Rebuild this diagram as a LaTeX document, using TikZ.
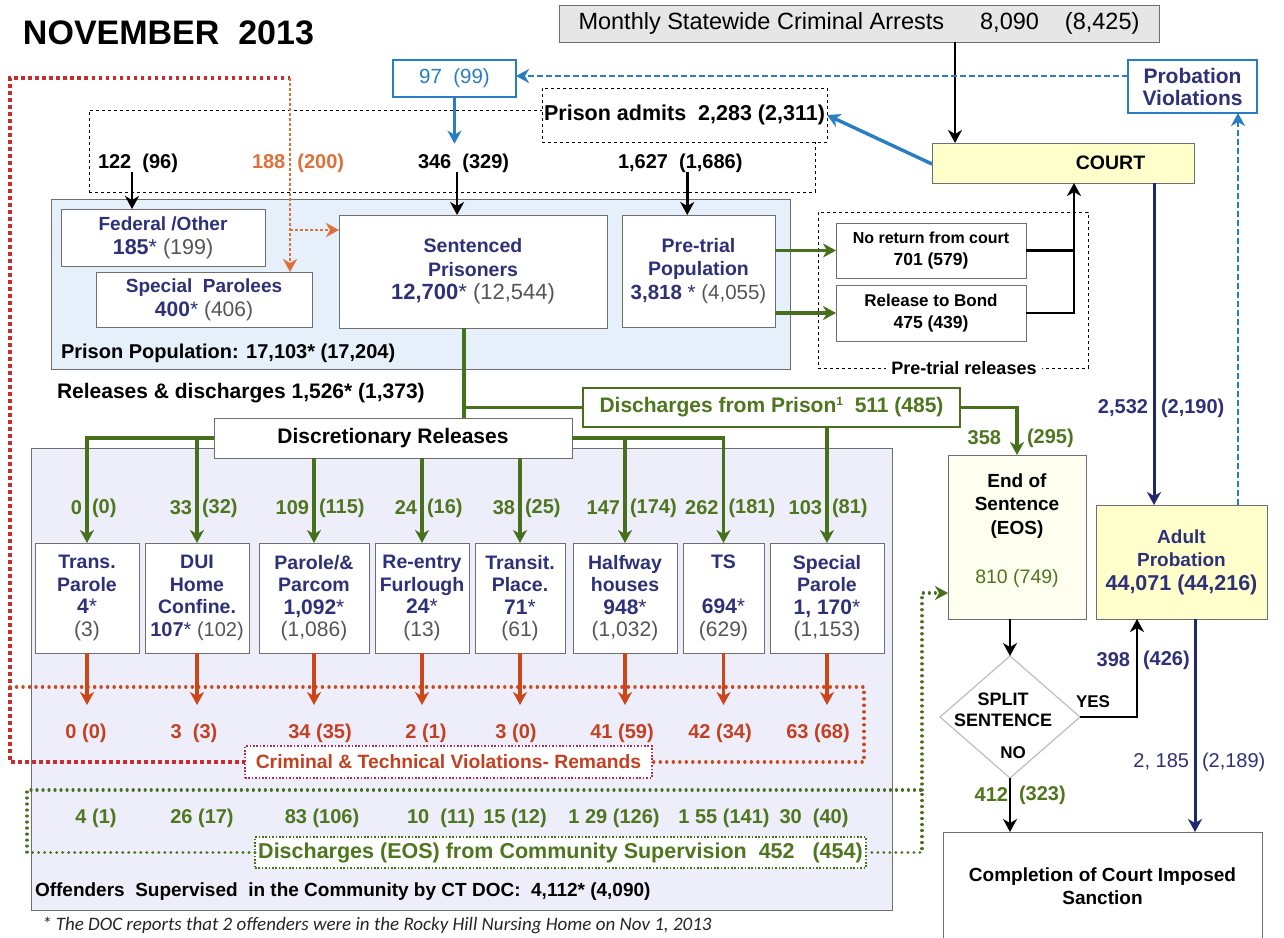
\documentclass[tikz,border=0pt]{standalone}
\usepackage{fontspec}
\setmainfont{Liberation Sans}
\newfontfamily\fnfont{Carlito}
\usetikzlibrary{arrows.meta,shapes.geometric}
\definecolor{navyt}{RGB}{46,49,120}
\definecolor{grayt}{RGB}{85,85,85}
\definecolor{grnt}{RGB}{78,118,30}
\definecolor{grnl}{RGB}{70,112,28}
\definecolor{redarr}{RGB}{205,70,25}
\definecolor{redt}{RGB}{195,65,35}
\definecolor{orng}{RGB}{222,112,60}
\definecolor{dred}{RGB}{200,45,45}
\definecolor{pinkd}{RGB}{175,45,80}
\definecolor{bluec}{RGB}{40,125,195}
\definecolor{navyl}{RGB}{30,40,110}
\definecolor{pfill}{RGB}{229,240,250}
\definecolor{cfill}{RGB}{238,238,250}
\definecolor{yel}{RGB}{255,255,204}
\definecolor{eosfill}{RGB}{255,255,240}
\definecolor{grayfill}{RGB}{230,230,230}
\definecolor{bordc}{RGB}{110,110,110}
\definecolor{diag}{RGB}{190,190,190}
\newcommand\fz[2]{\fontsize{#1}{#2}\selectfont}
\begin{document}
\begin{tikzpicture}[x=1pt,y=-1pt,
  every node/.style={inner sep=0pt, outer sep=0pt},
  box/.style={draw=bordc, line width=0.9pt, fill=white, align=center},
  rbox/.style={box, minimum height=110, text=navyt, font=\fz{19.5}{22.5}},
  ar/.style={-{Stealth[length=13pt,width=14pt,inset=4pt]}},
  blk/.style={draw=black, line width=2.8pt, ar},
  bline/.style={draw=black, line width=2.8pt},
  gline/.style={draw=grnl, line width=3.6pt},
  garr/.style={gline, ar},
  rarr/.style={draw=redarr, line width=3.2pt, ar},
  barr/.style={draw=bluec, line width=3.4pt, ar},
  bdash/.style={draw=bluec, line width=2pt, dash pattern=on 6pt off 3pt},
  narr/.style={draw=navyl, line width=3pt, ar},
  rdot/.style={draw=dred, line width=3.6pt, dash pattern=on 3.6pt off 3.4pt},
  rdotr/.style={draw=redarr, line width=3.4pt, line cap=round, dash pattern=on 0.01pt off 6.5pt},
  rdot2/.style={draw=orng, line width=2.6pt, dash pattern=on 2.6pt off 2.4pt, -{Stealth[length=13pt,width=14pt,inset=4pt,fill=redarr]}},
  gdot/.style={draw=grnl, line width=3.2pt, line cap=round, dash pattern=on 0.01pt off 6pt},
  lbl/.style={font=\bfseries\fz{20}{24}},
  gnum/.style={font=\bfseries\fz{20}{24}, text=grnt},
  rnum/.style={font=\bfseries\fz{20}{24}, text=redt},
  nlbl/.style={font=\bfseries\fz{20}{24}, text=navyt},
]
\useasboundingbox (0,0) rectangle (1284,937);
\clip (0,0) rectangle (1284,937);
\fill[white] (0,0) rectangle (1284,937);

% ---------- panels ----------
\node[draw=bordc, line width=0.9pt, fill=pfill, minimum width=739, minimum height=170] (ppanel) at (420.5,284) {};
\node[draw=bordc, line width=0.9pt, fill=cfill, minimum width=861, minimum height=462] (cpanel) at (461.5,679) {};

% ---------- title ----------
\node[anchor=west, font=\bfseries\fz{34}{40}] (title) at (23,33) {NOVEMBER\ \ 2013};

% ---------- top ----------
\node[box, fill=grayfill, minimum width=600, minimum height=37, font=\fz{23.5}{26}] (arrests) at (859,23.5)
  {Monthly Statewide Criminal Arrests\hspace{36pt}8,090\hspace{26pt}(8,425)};
\node[box, draw=bluec, line width=1.3pt, minimum width=123, minimum height=37, text=bluec, font=\fz{20.5}{24}] (b97) at (454.5,78.5) {97\ \ (99)};
\node[box, draw=bluec, line width=1.3pt, minimum width=129, minimum height=53, text=navyt, font=\bfseries\fz{21}{22}] (pv) at (1192.5,86.5) {Probation\\Violations};

\node[draw=black, dashed, line width=1pt, minimum width=726, minimum height=82] (admitbox) at (452,151) {};
\node[box, draw=black, dashed, line width=1pt, minimum width=285, minimum height=54, font=\bfseries\fz{21.5}{24}] (admits) at (684.5,115) {Prison admits\ \ 2,283 (2,311)};

\node[lbl, anchor=west] (l122) at (98,163) {122\ \ (96)};
\node[lbl, anchor=west, text=orng] (l188) at (252,163) {188\hspace{12pt}(200)};
\node[lbl, anchor=west] (l346) at (418,163) {346\ \ (329)};
\node[lbl, anchor=west] (l1627) at (618,163) {1,627\ \ (1,686)};

\node[box, fill=yel, minimum width=262, minimum height=40] (court) at (1063,163) {};
\node[font=\bfseries\fz{19.5}{22}] (courtt) at (1110.5,163) {COURT};

% ---------- red dotted loop (behind boxes) ----------
\coordinate (rtl) at (10,78);
\coordinate (rtr) at (290,78);
\coordinate (rl1) at (10,687);
\coordinate (rr1) at (864,687);
\coordinate (rl2) at (10,762);
\coordinate (rr2) at (864,762);
\draw[rdot] (448.5,762) -- (rl2) -- (rtl) -- (rtr);
\draw[rdotr] (rl1) -- (rr1) -- (rr2) -- (448.5,762);

% ---------- prison population ----------
\node[box, minimum width=204, minimum height=57, text=navyt, font=\bfseries\fz{19}{24}] (fed) at (163,237.5)
  {Federal /Other\\{\fz{21.5}{24}\bfseries 185\mdseries* {\color{grayt}(199)}}};
\node[box, minimum width=216, minimum height=55, text=navyt, font=\bfseries\fz{19}{24}] (spp) at (204,299.5)
  {Special\ \ Parolees\\{\fz{21}{24}\bfseries 400\mdseries* {\color{grayt}(406)}}};
\node[box, minimum width=268, minimum height=113, text=navyt, font=\bfseries\fz{19.5}{23.5}] (sent) at (473,271.5)
  {Sentenced\\Prisoners\\{\fz{22}{23.5}\bfseries 12,700\mdseries* {\color{grayt}(12,544)}}};
\node[box, minimum width=153, minimum height=112, text=navyt, font=\bfseries\fz{19.5}{23.5}] (pret) at (698.5,271)
  {Pre-trial\\Population\\{\fz{20.5}{23.5}\bfseries 3,818 \mdseries* {\color{grayt}(4,055)}}};
\node[anchor=west, font=\bfseries\fz{20}{24}] (poplbl) at (61,353) {Prison Population: 17,103* (17,204)};

\draw[rdot2] (rtr) -- (rtr |- spp.north);
\draw[rdot2] (rtr |- 0,230) -- (sent.west |- 0,230);

% ---------- admits arrows ----------
\draw[blk] ([xshift=-6]l122.south) -- ([xshift=-6]l122.south |- fed.north);
\draw[blk] ([xshift=-6.5]l346.south) -- ([xshift=-6.5]l346.south |- sent.north);
\draw[blk] ([xshift=7]l1627.south) -- ([xshift=7]l1627.south |- pret.north);
\draw[barr] (b97.south) -- ([yshift=10]b97.south |- l346.north);
\draw[blk] ([xshift=96]arrests.south) -- ([xshift=96]arrests.south |- court.north);
\draw[barr] ([yshift=-1]court.west) -- (admits.east);
\draw[bdash, -{Stealth[length=13pt,width=14pt,inset=4pt]}] (pv.west |- 0,76) -- (b97.east |- 0,76);

% ---------- pre-trial releases ----------
\node[draw=black, dashed, line width=1pt, minimum width=270, minimum height=156] (ptrel) at (953,290) {};
\node[fill=white, inner xsep=5pt, inner ysep=2pt, font=\bfseries\fz{18}{20}] (ptlbl) at (964,368) {Pre-trial releases};
\node[box, minimum width=190, minimum height=55, font=\bfseries\fz{16}{22}] (noret) at (931,250.5) {No return from court\\{\fz{17.5}{22}701 (579)}};
\node[box, minimum width=190, minimum height=56, font=\bfseries\fz{17}{22}] (bond) at (931,313) {Release to Bond\\{\fz{17.5}{22}475 (439)}};
\draw[garr] (pret.east |- noret.west) -- (noret.west);
\draw[garr] (pret.east |- bond.west) -- (bond.west);
\coordinate (cs) at ([xshift=11]court.south);
\draw[bline] (noret.east) -- (noret.east -| cs);
\draw[blk] (bond.east) -| (cs);

% ---------- releases ----------
\node[anchor=west, font=\bfseries\fz{21}{24}] (rdl) at (57,393) {Releases \& discharges 1,526* (1,373)};
\node[box, draw=grnl, line width=1.1pt, minimum width=377, minimum height=39, text=grnt, font=\bfseries\fz{21}{24}] (dfp) at (771.5,407.5)
  {Discharges from Prison\raisebox{7pt}{\fz{12}{12}1}\ \ 511 (485)};
\node[box, minimum width=358, minimum height=40, font=\bfseries\fz{21}{24}] (disc) at (393,438) {Discretionary Releases};

% release boxes
\node[rbox, minimum width=104] (tp) at (87,598) {\textbf{Trans.}\\\textbf{Parole}\\{\fz{21}{22.5}\textbf{4}*}\\{\fz{21}{22.5}\color{grayt}(3)}};
\node[rbox, minimum width=104] (dui) at (197,598) {\textbf{DUI}\\\textbf{Home}\\\textbf{Confine.}\\{\fz{20}{22.5}\textbf{107}* {\color{grayt}(102)}}};
\node[rbox, minimum width=110] (par) at (314,598) {\textbf{Parole/\&}\\\textbf{Parcom}\\{\fz{21}{22.5}\textbf{1,092}*}\\{\fz{21}{22.5}\color{grayt}(1,086)}};
\node[rbox, minimum width=94] (re) at (422,598) {\textbf{Re-entry}\\\textbf{Furlough}\\{\fz{21}{22.5}\textbf{24}*}\\{\fz{21}{22.5}\color{grayt}(13)}};
\node[rbox, minimum width=90] (tr) at (520,598) {\textbf{Transit.}\\\textbf{Place.}\\{\fz{21}{22.5}\textbf{71}*}\\{\fz{21}{22.5}\color{grayt}(61)}};
\node[rbox, minimum width=104] (hw) at (625,598) {\textbf{Halfway}\\\textbf{houses}\\{\fz{21}{22.5}\textbf{948}*}\\{\fz{21}{22.5}\color{grayt}(1,032)}};
\node[rbox, minimum width=81] (ts) at (723.5,598) {\textbf{TS}\\\mbox{}\\{\fz{21}{22.5}\textbf{694}*}\\{\fz{21}{22.5}\color{grayt}(629)}};
\node[rbox, minimum width=114] (spar) at (827,598) {\textbf{Special}\\\textbf{Parole}\\{\fz{21}{22.5}\textbf{1, 170}*}\\{\fz{21}{22.5}\color{grayt}(1,153)}};

% EOS, probation
\node[box, fill=eosfill, draw=bordc, minimum width=138, minimum height=164] (eos) at (1017,537) {};
\node[font=\bfseries\fz{19}{23.5}, align=center] (eost) at (1017,506) {End of\\Sentence\\(EOS)};
\node[font=\fz{19.5}{22}, text=grnt] (eosn) at (1017,578) {810 (749)};
\node[box, fill=yel, minimum width=171, minimum height=114, text=navyt, font=\bfseries\fz{19}{23.5}] (ap) at (1181.5,562)
  {Adult\\Probation\\{\fz{21.5}{23.5}44,071 (44,216)}};

% green connectors
\coordinate (sj) at ([xshift=-9]sent.south);
\draw[gline] (sj) -- (sj |- disc.north);
\draw[gline] (sj |- dfp.west) -- (dfp.west);
\draw[garr] (dfp.east) -| (eos.north);
\draw[garr] (dfp.south -| spar.north) -- (spar.north);
\draw[garr] (disc.west) -| (tp.north);
\draw[garr] (disc.west -| dui.north) -- (dui.north);
\draw[garr] (disc.south -| par.north) -- (par.north);
\draw[garr] (disc.south -| re.north) -- (re.north);
\draw[garr] (disc.south -| tr.north) -- (tr.north);
\draw[garr] (disc.east) -| (ts.north);
\draw[garr] (disc.east -| hw.north) -- (hw.north);

\foreach \nm/\bx/\a/\b in {g1/tp/0/{(0)}, g2/dui/33/{(32)}, g3/par/109/{(115)}, g4/re/24/{(16)}, g5/tr/38/{(25)}, g6/hw/147/{(174)}, g7/ts/262/{(181)}, g8/spar/103/{(81)}}{
  \node[gnum, anchor=east] (\nm a) at ([xshift=-5]\bx.north |- 0,508) {\a};
  \node[gnum, anchor=west] (\nm b) at ([xshift=5]\bx.north |- 0,508) {\b};
}
\node[gnum, anchor=east] (g358) at (1001,438) {358};
\node[gnum, anchor=west] (g295) at (1027,438) {(295)};

% red arrows and numbers
\foreach \bx in {tp,dui,par,re,tr,hw,ts,spar}{
  \draw[rarr] (\bx.south) -- ++(0,52);
}
\foreach \nm/\xx/\t in {r1/86/{0 (0)}, r2/194/{3\ \ (3)}, r3/320/{34 (35)}, r4/426/{2 (1)}, r5/516/{3 (0)}, r6/622/{41 (59)}, r7/720/{42 (34)}, r8/818/{63 (68)}}{
  \node[rnum] (\nm) at (\xx,733) {\t};
}
\node[box, draw=pinkd, line width=1.6pt, dash pattern=on 1.6pt off 1.8pt, minimum width=407, minimum height=32, text=redt, font=\bfseries\fz{19.3}{22}] (cr) at (448.5,762)
  {Criminal \& Technical Violations- Remands};

% green dotted loop
\node[box, draw=grnl, line width=1.6pt, dash pattern=on 1.6pt off 1.8pt, minimum width=611, minimum height=31, text=grnt, font=\bfseries\fz{21.5}{24}] (dcs) at (560.5,852.5)
  {Discharges (EOS) from Community Supervision\ \ 452\ \ \ (454)};
\coordinate (gtl) at (27,790);
\coordinate (gtr) at (922,790);
\draw[gdot] (dcs.west) -| (gtl) -- (gtr) |- (dcs.east);
\draw[gdot, -{Stealth[length=13pt,width=14pt,inset=4pt]}] (gtr) |- ([yshift=-56]eos.west);
\foreach \nm/\xx/\t in {q1/96/{4 (1)}, q2/202/{26 (17)}, q3/322/{83 (106)}, q4/441/{10\ \ (11)}, q5/515/{15 (12)}, q6/614/{1 29 (126)}, q7/724/{1 55 (141)}, q8/814/{30\ \ (40)}}{
  \node[gnum] (\nm) at (\xx,818) {\t};
}
\node[anchor=west, font=\bfseries\fz{19}{22}] (offl) at (35,892) {Offenders\ \ Supervised\ \ in the Community by CT DOC:\ \ 4,112* (4,090)};
\node[anchor=base west, font=\fnfont\itshape\fz{19}{22}, text=black!85] (foot) at (42,930) {* The DOC reports that 2 offenders were in the Rocky Hill Nursing Home on Nov 1, 2013};

% ---------- right column ----------
\node[draw=diag, line width=1.2pt, fill=white, diamond, minimum width=140, minimum height=122] (split) at (1010,717) {};
\node[font=\bfseries\fz{18}{21}, align=center] (splitt) at (1003,710) {SPLIT\\SENTENCE};
\node[font=\bfseries\fz{17}{20}] (not) at (1013,753) {NO};
\node[font=\bfseries\fz{17}{20}] (yest) at (1093,702) {YES};
\node[box, minimum width=319, minimum height=130, anchor=north] (comp) at (1102.5,832) {};
\node[font=\bfseries\fz{19}{23}, align=center] (compt) at (1102.5,886) {Completion of Court Imposed\\Sanction};

\coordinate (apd) at ([xshift=56.5]ap.north);
\draw[bdash, -{Stealth[length=13pt,width=14pt,inset=4pt]}] (apd) -- (apd |- pv.south);
\coordinate (cn) at ([xshift=91]court.south);
\draw[narr] (cn) -- (cn |- ap.north);
\coordinate (an) at ([xshift=13.5]ap.south);
\draw[narr] (an) -- (an |- comp.north);
\draw[blk] (split.north |- eos.south) -- (split.north);
\coordinate (ay) at ([xshift=-44.5]ap.south);
\draw[blk] (split.east) -| (ay);
\draw[blk] (split.south) -- (split.south |- comp.north);

\node[nlbl, anchor=east] (n2532) at (1148,408) {2,532};
\node[nlbl, anchor=west] (n2190) at (1161,408) {(2,190)};
\node[nlbl, anchor=east] (n398) at (1130,660) {398};
\node[nlbl, anchor=west] (n426) at (1143,660) {(426)};
\node[nlbl, anchor=east, font=\fz{20}{24}] (n2185) at (1189,762) {2, 185};
\node[nlbl, anchor=west, font=\fz{20}{24}] (n2189) at (1202,762) {(2,189)};
\node[gnum, anchor=east] (g412) at (1008,795) {412};
\node[gnum, anchor=west] (g323) at (1019,795) {(323)};
\end{tikzpicture}
\end{document}
